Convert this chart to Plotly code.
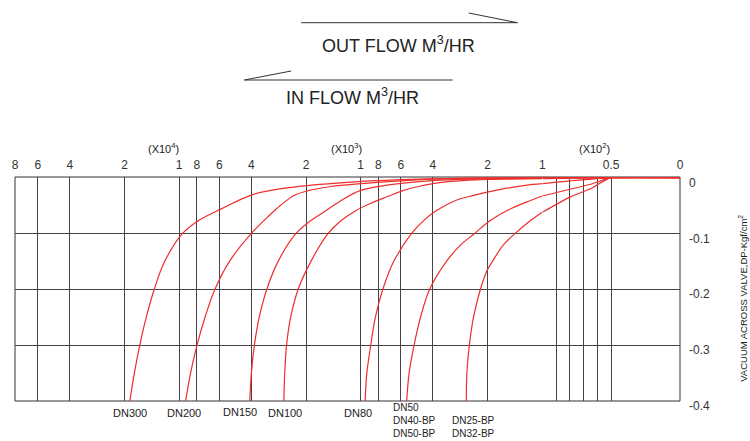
import math
import plotly.graph_objects as go

# ---------------- data ----------------
dp_tick_vals = [0, -0.1, -0.2, -0.3, -0.4]
dp_tick_text = ["0", "-0.1", "-0.2", "-0.3", "-0.4"]

log_tick_vals = [80000, 60000, 40000, 20000, 10000, 8000, 6000, 4000, 2000,
                 1000, 800, 600, 400, 200, 100]
log_tick_text = ["8", "6", "4", "2", "1", "8", "6", "4", "2",
                 "1", "8", "6", "4", "2", "1"]
lin_tick_vals = [50, 0]
lin_tick_text = ["0.5", "0"]
lin_minor_vals = [90, 80, 70, 60]

multiplier_labels = ["(X10<sup>4</sup>)", "(X10<sup>3</sup>)", "(X10<sup>2</sup>)"]

# flow (m3/hr) vs vacuum across valve DP (kgf/cm2)
dn300_flow = [18680, 17650, 16470, 15170, 13710, 12010, 9570, 7920, 5850, 3900, 2330, 1000, 600, 290, 100, 50, 0]
dn300_dp = [-0.4, -0.35, -0.3, -0.25, -0.2, -0.15, -0.1, -0.078, -0.056, -0.030, -0.017, -0.007, -0.0036, -0.0014, 0, 0, 0]

dn200_flow = [9210, 8650, 7970, 7200, 6350, 5280, 4000, 3190, 2770, 2330, 1920, 1460, 1000, 600, 380, 220, 100, 50, 0]
dn200_dp = [-0.4, -0.35, -0.3, -0.25, -0.2, -0.15, -0.1, -0.068, -0.05, -0.032, -0.023, -0.016, -0.011, -0.006, -0.0023, -0.0009, 0, 0, 0]

dn150_flow = [4080, 4000, 3850, 3620, 3290, 2850, 2270, 1880, 1550, 1280, 1000, 730, 580, 400, 250, 130, 100, 50, 0]
dn150_dp = [-0.4, -0.35, -0.3, -0.25, -0.2, -0.15, -0.1, -0.077, -0.059, -0.041, -0.023, -0.014, -0.010, -0.0054, -0.0027, -0.0011, -0.0005, 0, 0]

dn100_flow = [2650, 2620, 2560, 2430, 2210, 1880, 1510, 1280, 1060, 880, 710, 580, 480, 400, 320, 230, 150, 100, 50, 0]
dn100_dp = [-0.4, -0.35, -0.3, -0.25, -0.2, -0.15, -0.1, -0.077, -0.059, -0.046, -0.034, -0.023, -0.016, -0.011, -0.007, -0.004, -0.0027, -0.0018, 0, 0]

dn80_flow = [945, 925, 880, 830, 755, 657, 524, 450, 382, 300, 239, 181, 124, 100, 80, 50, 0]
dn80_dp = [-0.4, -0.35, -0.3, -0.25, -0.2, -0.15, -0.1, -0.077, -0.059, -0.041, -0.032, -0.023, -0.014, -0.011, -0.006, 0, 0]

dn50_flow = [558, 541, 508, 468, 417, 337, 282, 236, 193, 156, 116, 100, 80, 65, 50, 0]
dn50_dp = [-0.4, -0.35, -0.3, -0.25, -0.2, -0.15, -0.121, -0.1, -0.077, -0.059, -0.041, -0.033, -0.021, -0.012, 0, 0]

dn25bp_flow = [262, 260, 252, 239, 219, 201, 188, 164, 141, 116, 100, 80, 65, 50, 0]
dn25bp_dp = [-0.4, -0.35, -0.3, -0.25, -0.2, -0.166, -0.15, -0.121, -0.1, -0.077, -0.062, -0.035, -0.020, 0, 0]

curves = [
    ("DN300", dn300_flow, dn300_dp),
    ("DN200", dn200_flow, dn200_dp),
    ("DN150", dn150_flow, dn150_dp),
    ("DN100", dn100_flow, dn100_dp),
    ("DN80", dn80_flow, dn80_dp),
    ("DN50 / DN40-BP / DN50-BP", dn50_flow, dn50_dp),
    ("DN25-BP / DN32-BP", dn25bp_flow, dn25bp_dp),
]

# ---------------- layout geometry ----------------
W, H = 750, 441
L, R, T, B = 13, 70, 177, 40
PW, PH = W - L - R, H - T - B
BREAK = 100  # log scale above 100 m3/hr, linear scale below


def xp(px):
    return (px - L) / PW


def yp(py):
    return (T + PH - py) / PH


split = xp(542)
FONT = "Liberation Sans, Arial, sans-serif"
RED = "rgb(238,45,45)"
GRID = "#444"

fig = go.Figure()
for name, fl, dp in curves:
    hi = [(f, d) for f, d in zip(fl, dp) if f >= BREAK]
    lo = [(f, d) for f, d in zip(fl, dp) if f <= BREAK]
    fig.add_trace(go.Scatter(x=[p[0] for p in hi], y=[p[1] for p in hi], mode="lines",
                             line=dict(color=RED, width=1.2, shape="spline", smoothing=1.0),
                             xaxis="x", yaxis="y", name=name, showlegend=False))
    fig.add_trace(go.Scatter(x=[p[0] for p in lo], y=[p[1] for p in lo], mode="lines",
                             line=dict(color=RED, width=1.2, shape="spline", smoothing=0.6),
                             xaxis="x2", yaxis="y", name=name, showlegend=False))

axis_font = dict(family=FONT, size=12, color="#333")
fig.update_layout(
    width=W, height=H,
    margin=dict(l=L, r=R, t=T, b=B),
    paper_bgcolor="white", plot_bgcolor="white",
    showlegend=False,
    xaxis=dict(type="log", domain=[0, split], side="top", anchor="y",
               range=[math.log10(80000) + 0.001, math.log10(BREAK) - 0.001],
               tickmode="array", tickvals=log_tick_vals, ticktext=log_tick_text,
               showgrid=True, gridcolor=GRID, gridwidth=1, zeroline=False,
               showline=False, ticks="", tickfont=axis_font, ticklabelstandoff=5),
    xaxis2=dict(type="linear", domain=[split, 1], side="top", anchor="y",
                range=[BREAK, 0],
                tickmode="array", tickvals=lin_tick_vals, ticktext=lin_tick_text,
                minor=dict(tickmode="array", tickvals=lin_minor_vals, showgrid=True,
                           gridcolor=GRID, gridwidth=1, ticks=""),
                showgrid=True, gridcolor=GRID, gridwidth=1, zeroline=False,
                showline=False, ticks="", tickfont=axis_font, ticklabelstandoff=5),
    yaxis=dict(range=[-0.4, 0.001], side="right", anchor="x2",
               tickmode="array", tickvals=dp_tick_vals, ticktext=dp_tick_text,
               showgrid=True, gridcolor=GRID, gridwidth=1, zeroline=False,
               showline=False, ticks="", tickfont=axis_font, ticklabelstandoff=8,
               ticklabelshift=5),
)

line_style = dict(color="#333", width=1)
shapes = [
    dict(type="rect", xref="paper", yref="paper", x0=0, x1=1, y0=0, y1=1,
         line=line_style, layer="between"),
    # OUT FLOW arrow
    dict(type="line", xref="paper", yref="paper", x0=xp(300), x1=xp(517), y0=yp(22.7), y1=yp(22.7), line=line_style),
    dict(type="line", xref="paper", yref="paper", x0=xp(468), x1=xp(517), y0=yp(13), y1=yp(22.7), line=line_style),
    # IN FLOW arrow
    dict(type="line", xref="paper", yref="paper", x0=xp(243), x1=xp(452), y0=yp(80), y1=yp(80), line=line_style),
    dict(type="line", xref="paper", yref="paper", x0=xp(243), x1=xp(290), y0=yp(80), y1=yp(71), line=line_style),
]
fig.update_layout(shapes=shapes)

ann = []


def add_text(text, px, py, size, xanchor="center", angle=0, align="center"):
    ann.append(dict(text=text, xref="paper", yref="paper", x=xp(px), y=yp(py),
                    xanchor=xanchor, yanchor="middle", showarrow=False, textangle=angle,
                    align=align, font=dict(family=FONT, size=size, color="#222")))


add_text("OUT FLOW M<sup>3</sup>/HR", 398, 44, 18)
add_text("IN FLOW M<sup>3</sup>/HR", 352, 96, 18)
for lbl, px in zip(multiplier_labels, [162, 345, 594]):
    add_text(lbl, px, 148, 11)
add_text("VACUUM ACROSS VALVE,DP-Kgf/cm<sup>2</sup>", 743, 298, 9.5, angle=-90)

# curve labels below the chart
add_text("DN300", 128, 413, 11)
add_text("DN200", 183, 413, 11)
add_text("DN150", 239, 412, 11)
add_text("DN100", 284, 413, 11)
add_text("DN80", 357, 413, 11)
add_text("DN50<br>DN40-BP<br>DN50-BP", 390, 420.5, 10, xanchor="left", align="left")
add_text("DN25-BP<br>DN32-BP", 473, 427, 10)
fig.update_layout(annotations=ann)

fig.write_html("out.html", config={"displayModeBar": False},
               post_script="document.body.style.margin='0px';")
